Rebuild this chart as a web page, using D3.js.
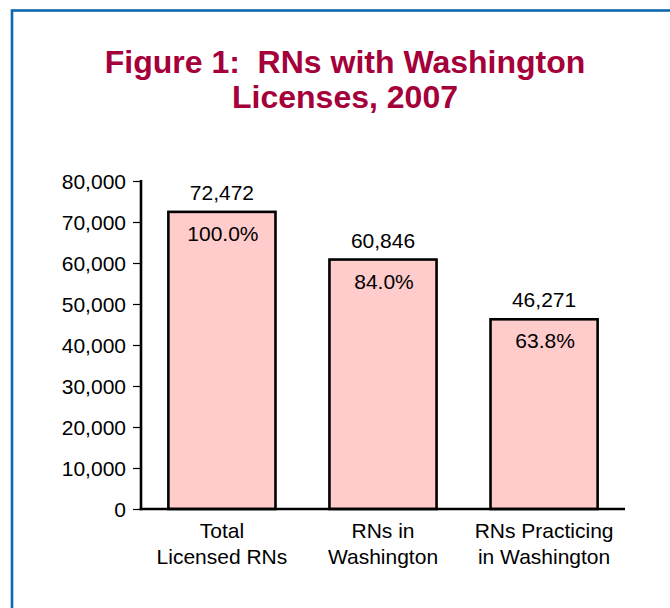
<!DOCTYPE html>
<html>
<head>
<meta charset="utf-8">
<script src="https://cdn.jsdelivr.net/npm/d3@7"></script>
<style>
  html, body { margin: 0; padding: 0; background: #fff; }
  svg { display: block; }
  text { font-family: "Liberation Sans", Arial, Helvetica, sans-serif; }
</style>
</head>
<body>
<svg id="chart" width="670" height="608"></svg>
<script>
const titleLines = ["Figure 1:  RNs with Washington", "Licenses, 2007"];
const categories = [["Total", "Licensed RNs"], ["RNs in", "Washington"], ["RNs Practicing", "in Washington"]];
const values = [72472, 60846, 46271];
const percentLabels = ["100.0%", "84.0%", "63.8%"];
const yTicks = [0, 10000, 20000, 30000, 40000, 50000, 60000, 70000, 80000];

const svg = d3.select("#chart");

// frame
svg.append("rect")
  .attr("x", 12).attr("y", 10.5)
  .attr("width", 700).attr("height", 700)
  .attr("fill", "none")
  .attr("stroke", "#0d68b2")
  .attr("stroke-width", 2.6);

// title
const title = svg.append("text")
  .attr("text-anchor", "middle")
  .attr("fill", "#a5003a")
  .attr("font-weight", "bold")
  .attr("font-size", 32);
titleLines.forEach((t, i) => {
  title.append("tspan").attr("x", 345).attr("y", 73 + i * 35).attr("xml:space", "preserve").text(t);
});

const x0 = 141, x1 = 625, yBase = 509, yTop = 181;
const idx = categories.map((d, i) => i);
const x = d3.scaleBand().domain(idx).range([x0, x1]).paddingInner(0.335).paddingOuter(0.17);
const y = d3.scaleLinear().domain([0, 80000]).range([yBase, yTop]);

// y axis
const yAxis = svg.append("g")
  .attr("transform", `translate(${x0},0)`)
  .call(d3.axisLeft(y).tickValues(yTicks).tickFormat(d3.format(",")).tickSize(8).tickPadding(7));
yAxis.select(".domain").remove();
yAxis.selectAll(".tick line").attr("stroke", "#000").attr("stroke-width", 1.2);
yAxis.selectAll(".tick text")
  .attr("font-size", 21)
  .attr("font-family", "'Liberation Sans', Arial, sans-serif")
  .attr("fill", "#000")
  .attr("dy", "0.36em");

// bars
svg.append("g").selectAll("rect")
  .data(values)
  .join("rect")
  .attr("x", (d, i) => x(i))
  .attr("y", d => y(d))
  .attr("width", x.bandwidth())
  .attr("height", d => y(0) - y(d))
  .attr("fill", "#ffcbcb")
  .attr("stroke", "#000")
  .attr("stroke-width", 2.6);

// axis lines
svg.append("line")
  .attr("x1", x0).attr("x2", x0)
  .attr("y1", yTop - 1).attr("y2", yBase + 1.3)
  .attr("stroke", "#000").attr("stroke-width", 2.6);
svg.append("line")
  .attr("x1", x0 - 1.3).attr("x2", x1)
  .attr("y1", yBase).attr("y2", yBase)
  .attr("stroke", "#000").attr("stroke-width", 2.6);

// value labels
svg.append("g").selectAll("text")
  .data(values)
  .join("text")
  .attr("x", (d, i) => x(i) + x.bandwidth() / 2)
  .attr("y", d => y(d) - 12)
  .attr("text-anchor", "middle")
  .attr("font-size", 21)
  .attr("fill", "#000")
  .text(d => d3.format(",")(d));

// percent labels
svg.append("g").selectAll("text")
  .data(values)
  .join("text")
  .attr("x", (d, i) => x(i) + x.bandwidth() / 2 + 1)
  .attr("y", d => y(d) + 29)
  .attr("text-anchor", "middle")
  .attr("font-size", 21)
  .attr("fill", "#000")
  .text((d, i) => percentLabels[i]);

// category labels
const cat = svg.append("g").selectAll("text")
  .data(categories)
  .join("text")
  .attr("text-anchor", "middle")
  .attr("font-size", 21)
  .attr("fill", "#000");
cat.each(function(lines, i) {
  const t = d3.select(this);
  lines.forEach((l, j) => {
    t.append("tspan")
      .attr("x", x(i) + x.bandwidth() / 2)
      .attr("y", 538 + j * 25.5)
      .text(l);
  });
});
</script>
</body>
</html>
